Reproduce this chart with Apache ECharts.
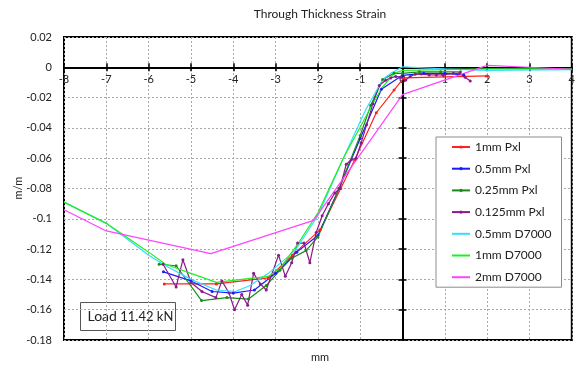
<!DOCTYPE html>
<html>
<head>
<meta charset="utf-8">
<script src="https://cdn.jsdelivr.net/npm/echarts@6/dist/echarts.min.js"></script>
<style>
  html, body { margin: 0; padding: 0; background: #fff; }
  #chart { width: 578px; height: 370px; }
</style>
</head>
<body>
<div id="chart"></div>
<script>
// Through-thickness strain profiles (m/m) against position (mm)

// 1mm Pxl
const px1X = [-5.63, -4.40, -3.17, -2.60, -1.94, -1.46, -1.13, -0.62, -0.20, 0.03, 2.00];
const px1Y = [-0.143, -0.143, -0.139, -0.124, -0.107, -0.080, -0.061, -0.030, -0.015, -0.007, -0.0057];

// 0.5mm Pxl
const px05X = [-5.65, -5.00, -4.50, -4.00, -3.50, -3.00, -2.50, -2.00, -1.50, -1.00, -0.50, 0.00, 0.50, 1.00, 1.45];
const px05Y = [-0.135, -0.141, -0.148, -0.149, -0.147, -0.136, -0.122, -0.111, -0.080, -0.047, -0.0145, -0.0053, -0.004, -0.004, -0.005];

// 0.25mm Pxl
const px025X = [-5.75, -5.35, -4.75, -4.15, -3.64, -3.22, -2.90, -2.62, -2.28, -2.00, -1.50, -1.00, -0.75, -0.47, -0.20, 0.00, 0.40, 0.90, 1.37];
const px025Y = [-0.130, -0.131, -0.154, -0.152, -0.153, -0.144, -0.134, -0.126, -0.121, -0.112, -0.080, -0.045, -0.025, -0.008, -0.004, -0.004, -0.003, -0.003, -0.003];

// 0.125mm Pxl
const px0125X = [-5.66, -5.35, -5.19, -5.00, -4.74, -4.41, -4.27, -4.10, -3.97, -3.80, -3.66, -3.52, -3.36, -3.22,
                 -2.93, -2.77, -2.62, -2.48, -2.33, -2.19, -2.04, -1.90, -1.75, -1.60, -1.48, -1.33, -1.21, -1.10,
                 -0.98, -0.85, -0.70, -0.55, -0.40, -0.28, -0.16, -0.05, 0.07, 0.18, 0.30, 0.44, 0.63, 0.80,
                 0.95, 1.20, 1.35, 1.48, 1.60];
const px0125Y = [-0.130, -0.145, -0.127, -0.142, -0.148, -0.152, -0.141, -0.149, -0.160, -0.150, -0.157, -0.136, -0.143, -0.147,
                 -0.124, -0.138, -0.129, -0.116, -0.116, -0.129, -0.109, -0.098, -0.090, -0.083, -0.080, -0.064, -0.061, -0.060,
                 -0.050, -0.038, -0.024, -0.012, -0.0086, -0.007, -0.006, -0.0065, -0.0086, -0.006, -0.0046, -0.0045, -0.005, -0.005,
                 -0.005, -0.004, -0.004, -0.0066, -0.009];

// 0.5mm D7000
const d05X = [-8.00, -7.00, -6.00, -5.60, -5.00, -4.40, -3.95, -3.60, -3.17, -2.54, -2.00, -1.40, -0.87, -0.47, -0.28, 0.00, 1.00, 2.00, 4.00];
const d05Y = [-0.089, -0.103, -0.124, -0.131, -0.140, -0.147, -0.148, -0.144, -0.136, -0.121, -0.098, -0.060, -0.028, -0.008, -0.004, 0.0003, -0.001, -0.002, -0.0015];

// 1mm D7000
const d1X = [-8.00, -7.00, -6.00, -5.60, -5.00, -4.40, -3.80, -3.17, -2.90, -2.46, -2.00, -1.40, -0.78, -0.50, -0.20, 0.00, 2.00, 4.00];
const d1Y = [-0.089, -0.103, -0.122, -0.130, -0.136, -0.142, -0.140, -0.138, -0.133, -0.116, -0.096, -0.060, -0.028, -0.014, -0.004, -0.002, -0.001, -0.001];

// 2mm D7000
const d2X = [-8.00, -7.00, -4.53, -2.10, 0.00, 2.00, 4.00];
const d2Y = [-0.094, -0.108, -0.123, -0.101, -0.018, 0.0013, -0.0013];

// Axis ticks
const xTicks = { min: -8, max: 4, step: 1 };
const yTicks = { min: -0.18, max: 0.02, step: 0.02 };

const seriesDefs = [
  { name: '1mm Pxl',     x: px1X,    y: px1Y,    color: '#ff2020', marker: true },
  { name: '0.5mm Pxl',   x: px05X,   y: px05Y,   color: '#1a1aff', marker: true },
  { name: '0.25mm Pxl',  x: px025X,  y: px025Y,  color: '#1b8a1b', marker: true },
  { name: '0.125mm Pxl', x: px0125X, y: px0125Y, color: '#8a1a8a', marker: true },
  { name: '0.5mm D7000', x: d05X,    y: d05Y,    color: '#33ddff', marker: false },
  { name: '1mm D7000',   x: d1X,     y: d1Y,     color: '#22ee22', marker: false },
  { name: '2mm D7000',   x: d2X,     y: d2Y,     color: '#ff44ff', marker: false }
];

const FONT = 'Lato, "Open Sans", sans-serif';
const W = 578, H = 370;
const GRID = { left: 64, right: 2, top: 37, bottom: 30 };

// Pixel distance from the plot bottom up to the y = 0 line, so the labelled x axis sits on zero
const plotH = H - GRID.top - GRID.bottom;
const zeroLift = plotH * (0 - yTicks.min) / (yTicks.max - yTicks.min);

const chart = echarts.init(document.getElementById('chart'), null, { renderer: 'canvas' });

const fmtY = v => {
  if (Math.abs(v) < 1e-9) return '0';
  return String(Math.round(v * 100) / 100);
};

chart.setOption({
  animation: false,
  backgroundColor: '#fff',
  grid: Object.assign({
    show: true, borderColor: '#000', borderWidth: 2, backgroundColor: 'transparent'
  }, GRID),
  xAxis: [
    {
      type: 'value', position: 'bottom', offset: -zeroLift,
      min: xTicks.min, max: xTicks.max, interval: xTicks.step,
      axisLine: { onZero: false, lineStyle: { color: '#000', width: 2 } },
      axisTick: { show: true, length: 4, lineStyle: { color: '#000', width: 1.5 } },
      axisLabel: { color: '#222', fontSize: 11, fontFamily: FONT, margin: 7 },
      splitLine: { show: true, lineStyle: { color: '#a8a8a8', type: [2, 2], width: 1 } }
    },
    {
      type: 'value', position: 'top', min: xTicks.min, max: xTicks.max, interval: xTicks.step,
      axisLine: { onZero: true, onZeroAxisIndex: 0, show: false },
      axisTick: { show: true, length: 4, lineStyle: { color: '#000', width: 1.5 } },
      axisLabel: { show: false },
      splitLine: { show: false }
    }
  ],
  yAxis: [
    {
      type: 'value', min: yTicks.min, max: yTicks.max, interval: yTicks.step,
      axisLine: { onZero: false, show: false },
      axisTick: { show: false },
      axisLabel: { color: '#222', fontSize: 11, fontFamily: FONT, margin: 12, formatter: fmtY },
      splitLine: { show: true, lineStyle: { color: '#a8a8a8', type: [2, 2], width: 1 } }
    },
    {
      type: 'value', position: 'right', min: yTicks.min, max: yTicks.max, interval: yTicks.step,
      axisLine: { onZero: true, onZeroAxisIndex: 0, lineStyle: { color: '#000', width: 2 } },
      axisTick: { show: true, length: 4, lineStyle: { color: '#000', width: 1.5 } },
      axisLabel: { show: false },
      splitLine: { show: false }
    },
    {
      type: 'value', position: 'left', min: yTicks.min, max: yTicks.max, interval: yTicks.step,
      axisLine: { onZero: true, onZeroAxisIndex: 0, show: false },
      axisTick: { show: true, length: 4, lineStyle: { color: '#000', width: 1.5 } },
      axisLabel: { show: false },
      splitLine: { show: false }
    }
  ],
  legend: {
    orient: 'vertical',
    left: 436, top: 137,
    padding: [3, 10, 3, 15],
    itemWidth: 18, itemHeight: 4, itemGap: 7.7,
    backgroundColor: '#fff',
    borderColor: '#8c8c8c', borderWidth: 1,
    textStyle: { color: '#222', fontSize: 12, fontFamily: FONT, lineHeight: 14 },
    data: seriesDefs.map(s => s.marker
      ? { name: s.name }
      : { name: s.name, itemStyle: { color: 'rgba(0,0,0,0)', borderWidth: 0 } })
  },
  series: seriesDefs.map(s => ({
    name: s.name,
    type: 'line',
    data: s.x.map((xv, i) => [xv, s.y[i]]),
    showSymbol: s.marker,
    symbol: s.marker ? 'circle' : 'none',
    symbolSize: 3,
    itemStyle: { color: s.color },
    lineStyle: { color: s.color, width: 1.2 },
    emphasis: { disabled: true }
  })),
  graphic: [
    {
      type: 'text', x: 320, y: 14,
      style: { text: 'Through Thickness Strain', fill: '#222', font: '12px ' + FONT, textAlign: 'center', textVerticalAlign: 'middle' }
    },
    {
      type: 'text', x: 18, y: 188, rotation: Math.PI / 2,
      style: { text: 'm/m', fill: '#222', font: '11px ' + FONT, textAlign: 'center', textVerticalAlign: 'middle' }
    },
    {
      type: 'text', x: 320, y: 357,
      style: { text: 'mm', fill: '#222', font: '11px ' + FONT, textAlign: 'center', textVerticalAlign: 'middle' }
    },
    {
      type: 'group', left: 80, top: 302,
      children: [
        { type: 'rect', shape: { x: 0, y: 0, width: 95, height: 28 },
          style: { fill: '#fff', stroke: '#555', lineWidth: 1 } },
        { type: 'text', x: 7, y: 14,
          style: { text: '{a|Load} {b|11.42 kN}', textVerticalAlign: 'middle',
            rich: { a: { fontSize: 14, fontFamily: FONT, fill: '#222' }, b: { fontSize: 13, fontFamily: FONT, fill: '#222' } } } }
      ]
    }
  ]
});
</script>
</body>
</html>
